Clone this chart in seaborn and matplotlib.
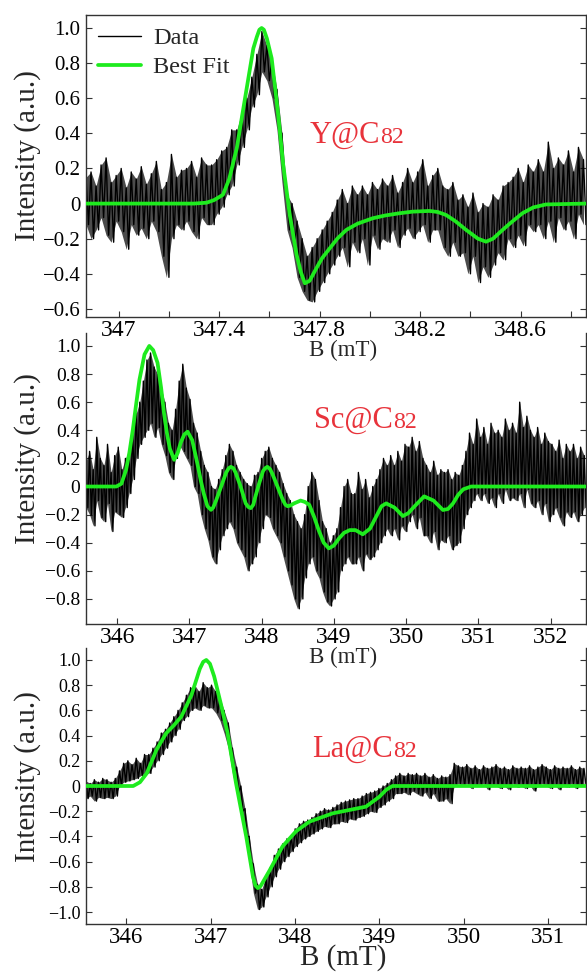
import numpy as np
import matplotlib
matplotlib.use('Agg')
import matplotlib.pyplot as plt
from matplotlib.lines import Line2D
import seaborn as sns

# ---------------- data ----------------
# Y@C82 : field range, measured trace (evenly sampled, alternating high/low), fitted curve
y_range = (346.87, 348.86)
y_data = [
    0.15, -0.12, 0.18, -0.2, 0.1, -0.15, 0.22, -0.08, 0.26, -0.18,
    0.12, -0.22, 0.16, -0.1, 0.2, -0.16, 0.09, -0.26, 0.18, -0.12,
    0.14, -0.18, 0.21, -0.14, 0.11, -0.2, 0.17, -0.1, 0.24, -0.16,
    0.08, -0.3, 0.12, -0.42, 0.28, -0.2, 0.15, -0.12, 0.19, -0.15,
    0.2, -0.1, 0.24, -0.16, 0.15, -0.2, 0.26, -0.08, 0.22, -0.12,
    0.22, -0.12, 0.25, -0.06, 0.3, -0.02, 0.32, 0.05, 0.42, 0.1,
    0.42, 0.22, 0.52, 0.32, 0.6, 0.42, 0.72, 0.55, 0.85, 0.62,
    0.98, 0.75, 0.9, 0.7, 0.82, 0.6, 0.65, 0.42, 0.4, 0.12,
    0.05, -0.15, 0.0, -0.25, -0.1, -0.42, -0.2, -0.5, -0.3, -0.55,
    -0.25, -0.56, -0.2, -0.5, -0.15, -0.45, -0.1, -0.4, -0.05, -0.35,
    0.02, -0.3, 0.08, -0.25, 0.0, -0.36, 0.1, -0.22, 0.05, -0.28,
    0.1, -0.2, 0.05, -0.35, 0.12, -0.18, 0.08, -0.26, 0.14, -0.2,
    0.1, -0.22, 0.16, -0.15, 0.06, -0.25, 0.12, -0.18, 0.2, -0.14,
    0.12, -0.2, 0.18, -0.16, 0.25, -0.12, 0.1, -0.22, 0.16, -0.15,
    0.2, -0.15, 0.1, -0.25, 0.08, -0.3, 0.12, -0.22, 0.02, -0.3,
    0.05, -0.28, -0.02, -0.4, 0.06, -0.3, -0.05, -0.45, 0.0, -0.36,
    -0.02, -0.42, 0.05, -0.35, 0.02, -0.28, 0.1, -0.32, 0.12, -0.2,
    0.15, -0.25, 0.2, -0.18, 0.12, -0.24, 0.22, -0.12, 0.18, -0.16,
    0.25, -0.12, 0.18, -0.2, 0.35, -0.1, 0.2, -0.22, 0.26, -0.08,
    0.22, -0.15, 0.3, -0.1, 0.18, -0.2, 0.32, -0.06, 0.25, -0.12,
]
y_fit_x = [346.87, 347.30, 347.35, 347.38, 347.415, 347.44, 347.47, 347.503,
           347.536, 347.55, 347.56, 347.569, 347.578, 347.59, 347.609, 347.635,
           347.655, 347.681, 347.708, 347.725, 347.741, 347.76, 347.787, 347.81,
           347.84, 347.87, 347.906, 347.95, 348.01, 348.06, 348.118, 348.17,
           348.237, 348.27, 348.303, 348.34, 348.383, 348.43, 348.462, 348.49,
           348.528, 348.56, 348.607, 348.65, 348.70, 348.86]
y_fit_y = [0, 0, 0.005, 0.02, 0.05, 0.14, 0.315, 0.60,
           0.884, 0.95, 0.99, 1.0, 0.99, 0.94, 0.827, 0.505,
           0.22, -0.065, -0.29, -0.39, -0.454, -0.44, -0.368, -0.31,
           -0.255, -0.2, -0.15, -0.115, -0.084, -0.068, -0.055, -0.046,
           -0.042, -0.048, -0.065, -0.1, -0.15, -0.2, -0.217, -0.2,
           -0.15, -0.11, -0.055, -0.022, -0.005, 0.0]

# Sc@C82
sc_range = (345.57, 352.49)
sc_data = [
    0.18, -0.15, 0.25, -0.2, 0.12, -0.28, 0.35, -0.1, 0.2, -0.22,
    0.15, -0.25, 0.3, -0.12, 0.1, -0.32, 0.22, -0.18, 0.28, -0.2,
    0.12, -0.22, 0.2, -0.15, 0.25, -0.05, 0.38, 0.05, 0.52, 0.2,
    0.6, 0.3, 0.75, 0.35, 0.9, 0.4, 0.95, 0.45, 0.85, 0.35,
    0.8, 0.42, 0.7, 0.3, 0.6, 0.22, 0.45, 0.1, 0.4, 0.05,
    0.55, 0.2, 0.75, 0.3, 0.87, 0.25, 0.7, 0.2, 0.62, 0.15,
    0.45, 0.0, 0.38, -0.05, 0.25, -0.2, 0.15, -0.3, 0.1, -0.38,
    0.0, -0.5, -0.02, -0.55, 0.05, -0.45, 0.12, -0.35, 0.22, -0.3,
    0.3, -0.25, 0.25, -0.3, 0.15, -0.4, 0.1, -0.45, 0.05, -0.5,
    0.02, -0.6, 0.0, -0.55, 0.08, -0.5, 0.1, -0.4, 0.2, -0.3,
    0.25, -0.2, 0.28, -0.22, 0.2, -0.3, 0.15, -0.35, 0.1, -0.4,
    0.02, -0.5, -0.05, -0.6, -0.1, -0.7, -0.2, -0.8, -0.25, -0.87,
    -0.3, -0.8, -0.2, -0.65, 0.0, -0.55, 0.1, -0.5, 0.05, -0.6,
    -0.1, -0.65, -0.25, -0.75, -0.3, -0.82, -0.4, -0.85, -0.35, -0.8,
    -0.3, -0.75, -0.15, -0.6, 0.0, -0.55, 0.05, -0.5, -0.05, -0.55,
    -0.05, -0.55, 0.1, -0.5, -0.02, -0.6, 0.05, -0.48, -0.08, -0.52,
    0.0, -0.5, 0.05, -0.45, 0.12, -0.4, 0.2, -0.35, 0.15, -0.3,
    0.22, -0.35, 0.15, -0.3, 0.25, -0.38, 0.18, -0.28, 0.3, -0.32,
    0.28, -0.25, 0.35, -0.2, 0.25, -0.3, 0.32, -0.22, 0.2, -0.35,
    0.15, -0.35, 0.1, -0.4, 0.18, -0.32, 0.08, -0.45, 0.12, -0.38,
    0.1, -0.4, 0.12, -0.35, 0.05, -0.45, 0.1, -0.42, 0.08, -0.4,
    0.15, -0.3, 0.25, -0.2, 0.38, -0.15, 0.3, -0.1, 0.48, -0.05,
    0.35, -0.1, 0.42, -0.05, 0.3, -0.12, 0.45, -0.08, 0.38, -0.15,
    0.4, -0.05, 0.35, -0.12, 0.48, -0.02, 0.4, -0.1, 0.45, -0.08,
    0.38, -0.1, 0.6, -0.05, 0.42, -0.15, 0.5, -0.02, 0.4, -0.12,
    0.35, -0.15, 0.42, -0.1, 0.3, -0.2, 0.38, -0.12, 0.32, -0.25,
    0.3, -0.2, 0.25, -0.15, 0.33, -0.22, 0.2, -0.28, 0.3, -0.18,
    0.25, -0.22, 0.3, -0.18, 0.2, -0.25, 0.28, -0.2, 0.22, -0.15,
]
sc_fit_x = [345.57, 345.99, 346.06, 346.124, 346.17, 346.217, 346.26, 346.31,
            346.38, 346.446, 346.50, 346.56, 346.61, 346.65, 346.69, 346.73,
            346.79, 346.84, 346.88, 346.93, 346.976, 347.04, 347.11, 347.16,
            347.2, 347.25, 347.3, 347.33, 347.37, 347.44, 347.51, 347.545,
            347.575, 347.61, 347.64, 347.71, 347.78, 347.815, 347.85, 347.885,
            347.91, 347.965, 348.02, 348.05, 348.08, 348.115, 348.15, 348.22,
            348.29, 348.33, 348.36, 348.40, 348.45, 348.54, 348.60, 348.66,
            348.73, 348.79, 348.86, 348.93, 349.0, 349.07, 349.14, 349.22,
            349.30, 349.40, 349.5, 349.6, 349.66, 349.725, 349.84, 349.955,
            350.03, 350.1, 350.25, 350.38, 350.51, 350.58, 350.65, 350.72,
            350.79, 350.9, 350.97, 352.49]
sc_fit_y = [0, 0, 0.02, 0.118, 0.24, 0.40, 0.57, 0.76,
            0.94, 1.0, 0.97, 0.88, 0.70, 0.52, 0.38, 0.27,
            0.19, 0.24, 0.31, 0.37, 0.39, 0.33, 0.166, 0.04,
            -0.05, -0.14, -0.166, -0.15, -0.1, 0.0, 0.1, 0.13,
            0.14, 0.13, 0.1, 0.0, -0.12, -0.145, -0.154, -0.13,
            -0.08, 0.02, 0.11, 0.13, 0.14, 0.125, 0.09, 0.0,
            -0.09, -0.13, -0.14, -0.135, -0.12, -0.10, -0.11, -0.13,
            -0.22, -0.31, -0.40, -0.44, -0.42, -0.37, -0.33, -0.31,
            -0.31, -0.34, -0.30, -0.2, -0.14, -0.12, -0.15, -0.21,
            -0.19, -0.15, -0.07, -0.1, -0.167, -0.16, -0.12, -0.06,
            -0.02, 0.0, 0.0, 0.0]

# La@C82
la_range = (345.52, 351.45)
la_data = [
    0.04, -0.1, 0.02, -0.08, 0.05, -0.12, 0.03, -0.09, 0.06, -0.1,
    0.05, -0.09, 0.03, -0.1, 0.06, -0.08, 0.12, 0.0, 0.18, 0.03,
    0.2, 0.04, 0.17, 0.05, 0.22, 0.06, 0.18, 0.08, 0.25, 0.1,
    0.25, 0.1, 0.3, 0.15, 0.35, 0.2, 0.42, 0.25, 0.45, 0.3,
    0.5, 0.35, 0.55, 0.4, 0.6, 0.45, 0.66, 0.52, 0.72, 0.55,
    0.78, 0.6, 0.8, 0.62, 0.75, 0.6, 0.82, 0.64, 0.78, 0.62,
    0.8, 0.62, 0.75, 0.58, 0.7, 0.52, 0.6, 0.42, 0.5, 0.3,
    0.3, 0.1, 0.15, -0.05, 0.0, -0.2, -0.18, -0.4, -0.4, -0.6,
    -0.62, -0.85, -0.78, -0.98, -0.82, -0.96, -0.72, -0.88, -0.65, -0.8,
    -0.55, -0.72, -0.5, -0.66, -0.46, -0.6, -0.42, -0.56, -0.4, -0.52,
    -0.34, -0.48, -0.3, -0.45, -0.28, -0.42, -0.27, -0.4, -0.25, -0.38,
    -0.22, -0.36, -0.2, -0.34, -0.18, -0.32, -0.19, -0.33, -0.17, -0.3,
    -0.15, -0.3, -0.13, -0.28, -0.12, -0.29, -0.11, -0.26, -0.1, -0.27,
    -0.1, -0.25, -0.08, -0.24, -0.06, -0.22, -0.05, -0.2, -0.04, -0.21,
    -0.02, -0.17, 0.0, -0.15, 0.02, -0.12, 0.05, -0.1, 0.08, -0.06,
    0.1, -0.06, 0.08, -0.05, 0.1, -0.07, 0.09, -0.04, 0.1, -0.06,
    0.08, -0.08, 0.1, -0.05, 0.07, -0.1, 0.09, -0.06, 0.06, -0.12,
    0.08, -0.12, 0.07, -0.1, 0.09, -0.14, 0.18, 0.0, 0.16, 0.02,
    0.15, 0.0, 0.17, 0.02, 0.14, -0.02, 0.16, 0.01, 0.13, 0.0,
    0.16, 0.02, 0.14, -0.03, 0.15, 0.01, 0.17, 0.0, 0.14, -0.02,
    0.15, 0.0, 0.13, -0.03, 0.16, 0.02, 0.14, -0.01, 0.15, 0.0,
    0.14, -0.02, 0.16, 0.01, 0.13, -0.04, 0.15, 0.0, 0.17, 0.02,
    0.15, 0.0, 0.13, -0.02, 0.16, 0.01, 0.14, -0.03, 0.15, 0.0,
    0.14, -0.01, 0.16, 0.02, 0.13, -0.02, 0.15, 0.0, 0.14, 0.01,
]
la_fit_x = [345.52, 346.08, 346.16, 346.24, 346.355, 346.47, 346.56, 346.65,
            346.77, 346.87, 346.91, 346.947, 346.99, 347.04, 347.12, 347.2,
            347.30, 347.42, 347.5, 347.53, 347.557, 347.59, 347.62, 347.70,
            347.85, 348.01, 348.17, 348.445, 348.84, 349.0, 349.08, 349.155,
            351.45]
la_fit_y = [0, 0, 0.03, 0.1, 0.286, 0.418, 0.48, 0.55,
            0.72, 0.93, 0.985, 1.0, 0.97, 0.87, 0.65, 0.418,
            0.02, -0.4, -0.72, -0.79, -0.81, -0.795, -0.76, -0.667,
            -0.48, -0.36, -0.283, -0.217, -0.164, -0.085, -0.03, 0.0,
            0.0]

# ticks
y_xticks = [347.0, 347.2, 347.4, 347.6, 347.8, 348.0, 348.2, 348.4, 348.6, 348.8]
y_xticklabels = ['347', '', '347.4', '', '347.8', '', '348.2', '', '348.6', '']
y_yticks = [1.0, 0.8, 0.6, 0.4, 0.2, 0.0, -0.2, -0.4, -0.6]
sc_xticks = [346, 347, 348, 349, 350, 351, 352]
sc_yticks = [1.0, 0.8, 0.6, 0.4, 0.2, 0.0, -0.2, -0.4, -0.6, -0.8]
la_xticks = [346, 347, 348, 349, 350, 351]
la_yticks = [1.0, 0.8, 0.6, 0.4, 0.2, 0.0, -0.2, -0.4, -0.6, -0.8, -1.0]

names = [('Y@C', '82'), ('Sc@C', '82'), ('La@C', '82')]

# ---------------- styling ----------------
sns.set_style('ticks')
plt.rcParams['font.family'] = ['Liberation Serif', 'DejaVu Serif']
plt.rcParams['axes.unicode_minus'] = True
plt.rcParams['xtick.direction'] = 'in'
plt.rcParams['ytick.direction'] = 'in'

GREEN = '#1eeb1e'
RED = '#e8333b'
SPINE = '#333333'

W, H = 587, 972
fig = plt.figure(figsize=(W / 100, H / 100), dpi=100)


def fmt(v):
    if abs(v) < 1e-9:
        return '0'
    return ('%.1f' % v).replace('-', '\u2212')


def panel(top, bottom, rng, data, fx, fy, ylim, xticks, xtlabels, yticks,
          name, name_xy, top_spine, xl_fs, xl_y, xl_va, yt_fs, xt_fs, yl_y,
          name_fs, z):
    ax = fig.add_axes([86 / W, 1 - bottom / H, 500 / W, (bottom - top) / H],
                      zorder=z)
    ax.set_facecolor('none')
    xd = np.linspace(rng[0], rng[1], len(data))
    # measured trace: shaded band between consecutive high/low samples + raw zigzag
    ax.fill_between(xd[0::2], data[1::2], data[0::2], color='black',
                    alpha=0.7, linewidth=0, zorder=1)
    sns.lineplot(x=xd, y=data, ax=ax, color='black', linewidth=1.0,
                 estimator=None, sort=False, zorder=2)
    sns.lineplot(x=fx, y=fy, ax=ax, color=GREEN, linewidth=2.7,
                 estimator=None, sort=False, zorder=3)
    ax.set_xlim(*rng)
    ax.set_ylim(*ylim)
    ax.set_xticks(xticks)
    ax.set_xticklabels(xtlabels if xtlabels is not None else [str(t) for t in xticks],
                       fontsize=xt_fs)
    ax.set_yticks(yticks)
    ax.set_yticklabels([fmt(v) for v in yticks], fontsize=yt_fs)
    ax.tick_params(axis='both', direction='in', length=4, width=0.8,
                   colors=SPINE, labelcolor='black', pad=2)
    ax.tick_params(axis='y', right=True, left=True, pad=4)
    for side in ['left', 'bottom', 'right', 'top']:
        ax.spines[side].set_color(SPINE)
        ax.spines[side].set_linewidth(1.0)
    ax.spines['top'].set_visible(top_spine)
    ax.set_xlabel('B (mT)', fontsize=xl_fs, va=xl_va)
    ax.xaxis.set_label_coords(0.514, xl_y)
    ax.set_ylabel('Intensity (a.u.)', fontsize=21, va='center')
    ax.yaxis.set_label_coords(-0.117, yl_y)
    if ax.get_legend() is not None:
        ax.get_legend().remove()
    t = ax.text(name_xy[0], name_xy[1], name[0], color=RED, fontsize=name_fs,
                va='baseline', ha='left')
    ax.annotate(name[1], xy=(1, name_xy[1]), xycoords=(t, 'data'),
                color=RED, fontsize=name_fs * 0.78, va='baseline', ha='left')
    return ax


ax1 = panel(15, 317, y_range, y_data, y_fit_x, y_fit_y, (-0.646, 1.074),
            y_xticks, y_xticklabels, y_yticks, names[0], (347.76, 0.345),
            True, 16.5, -0.112, 'center', 15, 17, 0.536, 22, 3)
ax2 = panel(333, 624, sc_range, sc_data, sc_fit_x, sc_fit_y, (-0.978, 1.092),
            sc_xticks, None, sc_yticks, names[1], (348.73, 0.417),
            False, 16.5, -0.116, 'center', 14, 17, 0.57, 22, 2)
ax3 = panel(648, 924, la_range, la_data, la_fit_x, la_fit_y, (-1.095, 1.095),
            la_xticks, None, la_yticks, names[2], (348.205, 0.23),
            False, 21, -0.1486, 'baseline', 13, 16.5, 0.533, 22, 1)

handles = [Line2D([], [], color='black', lw=1.0),
           Line2D([], [], color=GREEN, lw=2.7)]
ax1.legend(handles, ['Data', 'Best Fit'], loc='upper left', frameon=False,
           fontsize=17.5, handlelength=1.75, handletextpad=0.5,
           labelspacing=0.3, borderaxespad=0.3, borderpad=0.2)

fig.savefig('out.png', dpi=100)
